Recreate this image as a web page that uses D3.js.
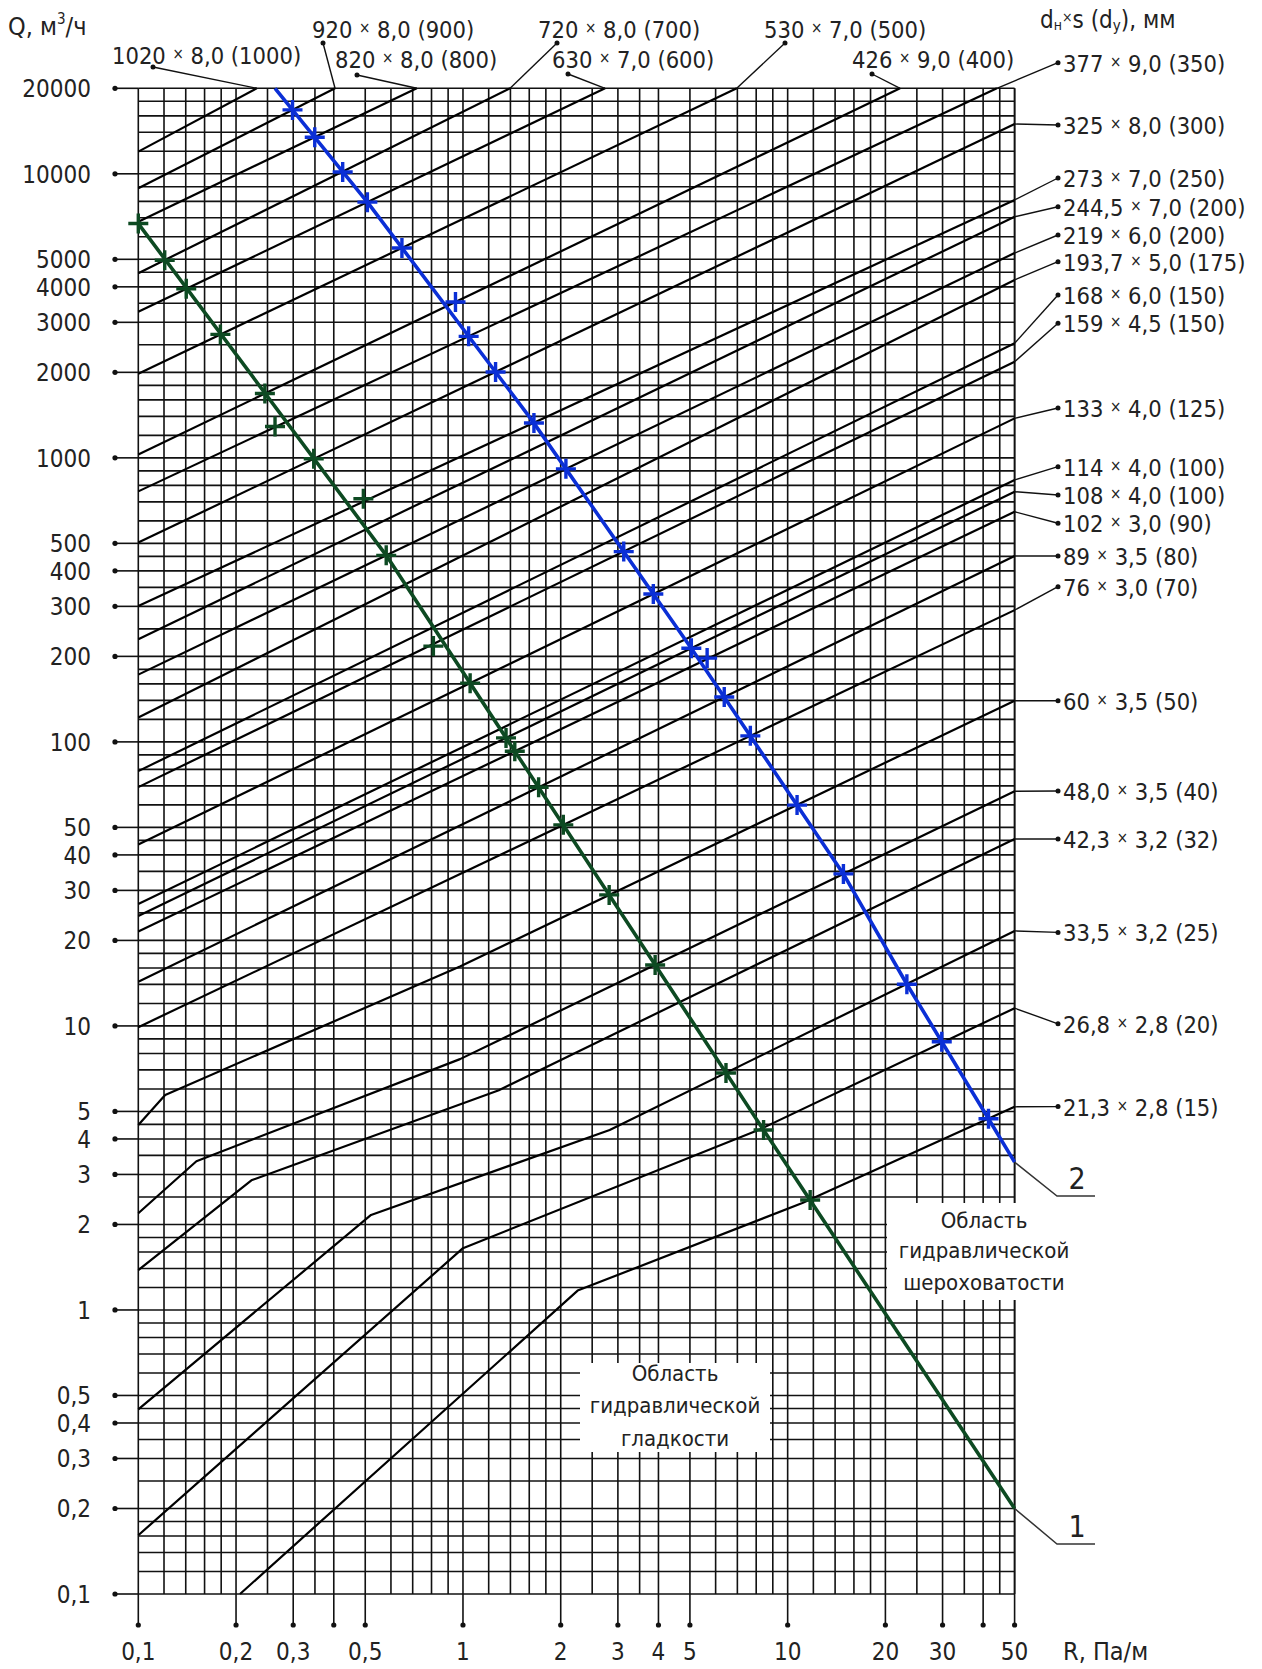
<!DOCTYPE html>
<html>
<head>
<meta charset="utf-8">
<script src="https://cdn.jsdelivr.net/npm/d3@7"></script>
<style>
  html, body { margin: 0; padding: 0; background: #fff; }
  svg { display: block; }
  text { font-family: "DejaVu Sans Condensed", "DejaVu Sans", sans-serif; font-stretch: condensed; fill: #222; }
</style>
</head>
<body>
<svg id="chart" width="1262" height="1669"></svg>
<script>
// ---- axis ticks ----
const xTicks = [0.1, 0.2, 0.3, 0.4, 0.5, 1, 2, 3, 4, 5, 10, 20, 30, 40, 50];
const xTickLabels = ["0,1", "0,2", "0,3", "", "0,5", "1", "2", "3", "4", "5", "10", "20", "30", "", "50"];
const yTicks = [20000, 10000, 5000, 4000, 3000, 2000, 1000, 500, 400, 300, 200, 100, 50, 40, 30, 20, 10, 5, 4, 3, 2, 1, 0.5, 0.4, 0.3, 0.2, 0.1];
const yTickLabels = ["20000", "10000", "5000", "4000", "3000", "2000", "1000", "500", "400", "300", "200", "100", "50", "40", "30", "20", "10", "5", "4", "3", "2", "1", "0,5", "0,4", "0,3", "0,2", "0,1"];

// ---- grid mantissas per decade ----
const rGridSteps = [1, 1.2, 1.4, 1.6, 1.8, 2, 2.5, 3, 3.5, 4, 5, 6, 7, 8, 9];
const rGridExtra = [45];
const qGridSteps = [1, 1.2, 1.4, 1.6, 1.8, 2, 2.5, 3, 3.5, 4, 4.5, 5, 6, 7, 8, 9];

// ---- pipes: outer diameter, wall, nominal bore ----
const pipeDiam = ["1020", "920", "820", "720", "630", "530", "426", "377", "325", "273", "244,5", "219", "193,7", "168", "159", "133", "114", "108", "102", "89", "76", "60", "48,0", "42,3", "33,5", "26,8", "21,3"];
const pipeWall = ["8,0", "8,0", "8,0", "8,0", "7,0", "7,0", "9,0", "9,0", "8,0", "7,0", "7,0", "6,0", "5,0", "6,0", "4,5", "4,0", "4,0", "4,0", "3,0", "3,5", "3,0", "3,5", "3,5", "3,2", "3,2", "2,8", "2,8"];
const pipeBore = ["1000", "900", "800", "700", "600", "500", "400", "350", "300", "250", "200", "200", "175", "150", "150", "125", "100", "100", "90", "80", "70", "50", "40", "32", "25", "20", "15"];

// R (Pa/m) and Q (m3/h) along each pipe characteristic
const pipeR = [
  [0.1, 0.2316], [0.1, 0.4036], [0.1, 0.7205], [0.1, 1.397], [0.1, 2.74], [0.1, 6.97], [0.1, 22.2], [0.1, 44.1],
  [0.1, 50], [0.1, 50], [0.1, 50], [0.1, 50], [0.1, 50], [0.1, 50], [0.1, 50], [0.1, 50], [0.1, 50], [0.1, 50],
  [0.1, 50], [0.1, 50], [0.1, 50],
  [0.1, 0.121, 0.979, 50],
  [0.1, 0.151, 0.979, 50],
  [0.1, 0.223, 1.29, 50],
  [0.1, 0.521, 2.83, 50],
  [0.1, 1.0, 8.2, 50],
  [0.2057, 2.255, 11.1, 50]
];
const pipeQ = [
  [11970, 20000], [8890, 20000], [6780, 20000], [4467, 20000], [3268, 20000], [1979, 20000], [1028, 20000], [762, 20000],
  [503, 14970], [301, 8090], [230, 7060], [172.5, 5260], [121.8, 4230], [78.9, 2530], [69.3, 2180], [43.55, 1377],
  [26.85, 836], [24.4, 760], [21.5, 646], [14.3, 451], [9.9, 291],
  [4.48, 5.71, 16.2, 139.6],
  [2.19, 3.34, 7.64, 67],
  [1.38, 2.86, 5.94, 45.5],
  [0.447, 2.16, 4.3, 21.6],
  [0.161, 1.65, 4.32, 11.55],
  [0.1, 1.17, 2.38, 5.19]
];

// ---- boundary line 1 (green) and its crossing marks ----
const line1R = [0.1, 0.5802, 8.43, 50];
const line1Q = [6680, 453.6, 4.30, 0.2];
const line1MarkR = [0.1, 0.1206, 0.1405, 0.179, 0.2454, 0.2637, 0.347, 0.4934, 0.5802, 0.8106, 1.052, 1.357, 1.444, 1.71, 2.037, 2.82, 3.907, 6.457, 8.43, 11.73];
const line1MarkQ = [6680, 4963, 3936, 2720, 1684, 1290, 992.7, 718, 453.6, 217.4, 161, 103.3, 92.7, 69.26, 51.03, 28.93, 16.39, 6.83, 4.30, 2.44];

// ---- boundary line 2 (blue) and its crossing marks ----
const line2R = [0.2637, 0.5112, 1.621, 5.042, 14.85, 23.29, 41.55, 50];
const line2Q = [20000, 7873, 1369, 213.9, 34.29, 14.02, 4.713, 3.314];
const line2MarkR = [0.2985, 0.3495, 0.4261, 0.5076, 0.6486, 0.9482, 1.041, 1.26, 1.654, 2.075, 3.127, 3.857, 5.05, 5.649, 6.378, 7.675, 10.69, 14.85, 23.29, 29.83, 41.55];
const line2MarkQ = [16790, 13455, 10150, 7947, 5483, 3536, 2678, 2006, 1326, 914.6, 467.7, 331.6, 213.6, 197.2, 143.8, 105, 59.9, 34.29, 14.02, 8.8, 4.713];

// ---- layout ----
const W = 1262, H = 1669;
const plot = { left: 138.3, right: 1014.6, top: 88.3, bottom: 1594 };
const INK = "#111";
const GREEN = "#0d4a22";
const BLUE = "#0b2fd6";

// label placement for pipes ending on the top edge: [text x, baseline, dot x, dot y]
const topLabelPlace = [
  [112, 64, 153, 67], [312, 38, 323, 43], [335, 68, 357, 75], [538, 38, 557, 43],
  [552, 68, 568, 74], [764, 38, 785, 43], [852, 68, 872, 74]
];
// label dots for pipes ending on the right edge (pipes 7..26)
const rightLabelDotY = [62.7, 125, 178, 206.7, 235, 261.7, 295, 323.3, 408, 466.7, 495, 523.3, 556, 586.7, 700.7, 791, 839, 932.4, 1023.8, 1106.6];

const svg = d3.select("#chart");
svg.append("rect").attr("width", W).attr("height", H).attr("fill", "#fff");

const x = d3.scaleLog().domain([0.1, 50]).range([plot.left, plot.right]);
const y = d3.scaleLog().domain([0.1, 20000]).range([plot.bottom, plot.top]);

// grid values
const rGrid = [];
[0.1, 1, 10].forEach(dec => rGridSteps.forEach(m => { const v = +(m * dec).toPrecision(6); if (v <= 50) rGrid.push(v); }));
rGridExtra.forEach(v => rGrid.push(v));
rGrid.push(50);
const qGrid = [];
[0.1, 1, 10, 100, 1000, 10000].forEach(dec => qGridSteps.forEach(m => { const v = +(m * dec).toPrecision(6); if (v <= 20000) qGrid.push(v); }));

const grid = svg.append("g").attr("stroke", INK).attr("stroke-width", 1.6);
grid.selectAll("line.v").data(rGrid).join("line").attr("class", "v")
  .attr("x1", d => x(d)).attr("x2", d => x(d)).attr("y1", plot.top).attr("y2", plot.bottom);
grid.selectAll("line.h").data(qGrid).join("line").attr("class", "h")
  .attr("x1", plot.left).attr("x2", plot.right).attr("y1", d => y(d)).attr("y2", d => y(d));

// x ticks (below frame) with dots
const xt = svg.append("g");
xt.selectAll("line").data(xTicks).join("line")
  .attr("x1", d => x(d)).attr("x2", d => x(d)).attr("y1", plot.bottom).attr("y2", plot.bottom + 31)
  .attr("stroke", INK).attr("stroke-width", 1.6);
xt.selectAll("circle").data(xTicks).join("circle")
  .attr("cx", d => x(d)).attr("cy", plot.bottom + 31).attr("r", 2.6).attr("fill", INK);
xt.selectAll("text").data(xTicks).join("text")
  .attr("x", d => x(d)).attr("y", 1660).attr("text-anchor", "middle").attr("font-size", 24)
  .text((d, i) => xTickLabels[i]);

// y ticks (left of frame) with dots
const yt = svg.append("g");
yt.selectAll("line").data(yTicks).join("line")
  .attr("x1", plot.left).attr("x2", 115).attr("y1", d => y(d)).attr("y2", d => y(d))
  .attr("stroke", INK).attr("stroke-width", 1.6);
yt.selectAll("circle").data(yTicks).join("circle")
  .attr("cx", 115).attr("cy", d => y(d)).attr("r", 2.6).attr("fill", INK);
yt.selectAll("text").data(yTicks).join("text")
  .attr("x", 91).attr("y", d => y(d) + 9).attr("text-anchor", "end").attr("font-size", 24)
  .text((d, i) => yTickLabels[i]);

// white panels under the region captions
svg.append("rect").attr("x", 580).attr("y", 1363).attr("width", 190).attr("height", 89).attr("fill", "#fff");
svg.append("rect").attr("x", 887).attr("y", 1203).attr("width", 200).attr("height", 97).attr("fill", "#fff");

// pipe characteristics
const lineGen = d3.line().x(d => x(d[0])).y(d => y(d[1]));
const pipes = pipeR.map((rs, i) => rs.map((r, j) => [r, pipeQ[i][j]]));
svg.append("g").selectAll("path").data(pipes).join("path")
  .attr("d", lineGen).attr("fill", "none").attr("stroke", "#000").attr("stroke-width", 2.2)
  .attr("stroke-linejoin", "round");

// boundary lines with crossing marks
function boundary(rs, qs, mr, mq, color) {
  const pts = rs.map((r, i) => [r, qs[i]]);
  svg.append("path").attr("d", lineGen(pts)).attr("fill", "none")
    .attr("stroke", color).attr("stroke-width", 3.6).attr("stroke-linejoin", "round");
  const marks = mr.map((r, i) => [r, mq[i]]);
  svg.append("g").selectAll("path").data(marks).join("path")
    .attr("transform", d => `translate(${x(d[0])},${y(d[1])})`)
    .attr("d", "M-10,0H10M0,-10V10").attr("stroke", color).attr("stroke-width", 3.4);
}
boundary(line1R, line1Q, line1MarkR, line1MarkQ, GREEN);
boundary(line2R, line2Q, line2MarkR, line2MarkQ, BLUE);

// pipe labels
function pipeLabel(g, i, tx, ty) {
  const t = g.append("text").attr("x", tx).attr("y", ty).attr("font-size", 23.5);
  t.append("tspan").text(pipeDiam[i] + " ");
  t.append("tspan").attr("font-size", 15).attr("dy", -5).text("×");
  t.append("tspan").attr("dy", 5).text(" " + pipeWall[i] + " (" + pipeBore[i] + ")");
}
const labels = svg.append("g");
const leader = (x1, y1, x2, y2) => {
  labels.append("line").attr("x1", x1).attr("y1", y1).attr("x2", x2).attr("y2", y2)
    .attr("stroke", INK).attr("stroke-width", 1.4);
  labels.append("circle").attr("cx", x2).attr("cy", y2).attr("r", 2.5).attr("fill", INK);
};
topLabelPlace.forEach((p, i) => {
  const last = pipes[i][pipes[i].length - 1];
  leader(x(last[0]), y(last[1]), p[2], p[3]);
  pipeLabel(labels, i, p[0], p[1]);
});
rightLabelDotY.forEach((dy, k) => {
  const i = k + 7;
  const last = pipes[i][pipes[i].length - 1];
  leader(x(last[0]), y(last[1]), 1058, dy);
  pipeLabel(labels, i, 1063, dy + 9);
});

// axis titles
const qt = svg.append("text").attr("x", 8).attr("y", 35).attr("font-size", 25);
qt.append("tspan").text("Q, м");
qt.append("tspan").attr("font-size", 15).attr("dy", -11).text("3");
qt.append("tspan").attr("dy", 11).text("/ч");

const dt = svg.append("text").attr("x", 1040).attr("y", 28).attr("font-size", 24);
dt.append("tspan").text("d");
dt.append("tspan").attr("font-size", 14).attr("dy", 2).text("н");
dt.append("tspan").attr("font-size", 14).attr("dy", -8).text("×");
dt.append("tspan").attr("dy", 6).text("s (d");
dt.append("tspan").attr("font-size", 15).attr("dy", 3).text("у");
dt.append("tspan").attr("dy", -3).text("), мм");

svg.append("text").attr("x", 1063).attr("y", 1660).attr("font-size", 25).text("R, Па/м");

// region captions
const capt = (cx, ys, lines) => lines.forEach((s, i) =>
  svg.append("text").attr("x", cx).attr("y", ys[i]).attr("text-anchor", "middle")
    .attr("font-size", 22).text(s));
capt(675, [1381, 1413, 1446], ["Область", "гидравлической", "гладкости"]);
capt(984, [1228, 1258, 1290], ["Область", "гидравлической", "шероховатости"]);

// callouts for the boundary lines
function callout(r, q, label, yLine) {
  const x0 = x(r), y0 = y(q);
  svg.append("path").attr("d", `M${x0},${y0}L1057,${yLine}H1095`).attr("fill", "none")
    .attr("stroke", "#333").attr("stroke-width", 1.5);
  svg.append("text").attr("x", 1077).attr("y", yLine - 7).attr("text-anchor", "middle")
    .attr("font-size", 30).text(label);
}
callout(line1R[line1R.length - 1], line1Q[line1Q.length - 1], "1", 1544);
callout(line2R[line2R.length - 1], line2Q[line2Q.length - 1], "2", 1196);
</script>
</body>
</html>
